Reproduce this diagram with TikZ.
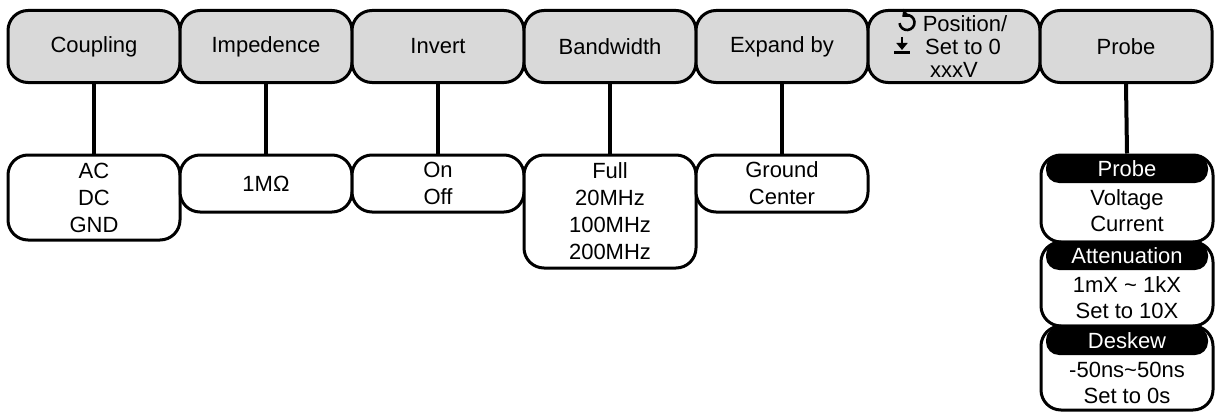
\documentclass[tikz,border=0pt]{standalone}
\usepackage{fontspec}
\setmainfont{Liberation Sans}
\usetikzlibrary{arrows.meta}
\definecolor{btngray}{RGB}{217,217,217}
\begin{document}
\begin{tikzpicture}[x=1pt,y=-1pt,
  btn/.style={draw=black, line width=3pt, fill=btngray, rounded corners=20pt,
    minimum width=172pt, minimum height=72pt, inner sep=0pt, align=center,
    font=\fontsize{22}{27}\selectfont},
  optbox/.style={draw=black, line width=3pt, fill=white, rounded corners=20pt,
    minimum width=172pt, inner sep=0pt, align=center,
    font=\fontsize{22}{27}\selectfont},
  hdr/.style={fill=black, text=white, rounded corners=13pt, minimum width=162pt,
    minimum height=28pt, inner sep=0pt, font=\fontsize{22}{27}\selectfont},
  lines/.style={inner sep=0pt, align=center, font=\fontsize{22}{26}\selectfont},
  wire/.style={line width=4pt},
  icon/.style={line width=2.6pt, black}]
\useasboundingbox (0,0) rectangle (1215,412);

% top buttons
\node[btn] (coup) at (94,46.5) {Coupling};
\node[btn] (imp) at (266,46.5) {Impedence};
\node[btn] (inv) at (438,46.5) {Invert};
\node[btn] (bw) at (610,46.5) {Bandwidth};
\node[btn] (exp) at (782,46.5) {Expand by};
\node[btn, font=\fontsize{22}{23}\selectfont] (pos) at (954,46.5)
  {\hspace*{22pt}Position/\\\hspace*{18pt}Set to 0\\xxxV};
\node[btn] (prb) at (1126,46.5) {Probe};

% icons in the Position button
\coordinate (rot) at ([shift={(-47,-24)}]pos.center);
\coordinate (dl) at ([shift={(-52,-1)}]pos.center);
\begin{scope}[shift={(rot)}, yscale=-1]
  \draw[icon, -{Triangle[length=6pt,width=10pt]}]
    (-175:7.5) arc[start angle=-175, end angle=130, radius=7.5];
\end{scope}
\begin{scope}[shift={(dl)}, yscale=-1]
  \draw[icon, -{Triangle[length=7pt,width=11pt]}] (0,8.5) -- (0,-4.5);
  \fill[black] (-8,-6) rectangle (8,-8.5);
\end{scope}

% option boxes
\node[optbox, minimum height=85pt] (coupopt) at (94,197.5) {AC\\DC\\GND};
\node[optbox, minimum height=57pt] (impopt) at (266,183.5) {1MΩ};
\node[optbox, minimum height=57pt] (invopt) at (438,183.5) {On\\Off};
\node[optbox, minimum height=113pt] (bwopt) at (610,211.5) {Full\\20MHz\\100MHz\\200MHz};
\node[optbox, minimum height=57pt] (expopt) at (782,183.5) {Ground\\Center};

% probe panel
\node[optbox, minimum height=87pt] (pb1) at (1127,198.5) {};
\node[hdr] (pb1h) at (1127,169) {Probe};
\node[lines] (pb1t) at (1127,210.5) {Voltage\\Current};

\node[optbox, minimum height=84pt] (pb2) at (1127,284) {};
\node[hdr] (pb2h) at (1127,256) {Attenuation};
\node[lines] (pb2t) at (1127,297.5) {1mX \textasciitilde{} 1kX\\Set to 10X};

\node[optbox, minimum height=84pt] (pb3) at (1127,368) {};
\node[hdr] (pb3h) at (1127,341) {Deskew};
\node[lines] (pb3t) at (1127,382.5) {-50ns\textasciitilde50ns\\Set to 0s};

% connectors
\draw[wire] (coup.south) -- (coupopt.north);
\draw[wire] (imp.south) -- (impopt.north);
\draw[wire] (inv.south) -- (invopt.north);
\draw[wire] (bw.south) -- (bwopt.north);
\draw[wire] (exp.south) -- (expopt.north);
\draw[wire] (prb.south) -- (pb1.north);
\end{tikzpicture}
\end{document}
